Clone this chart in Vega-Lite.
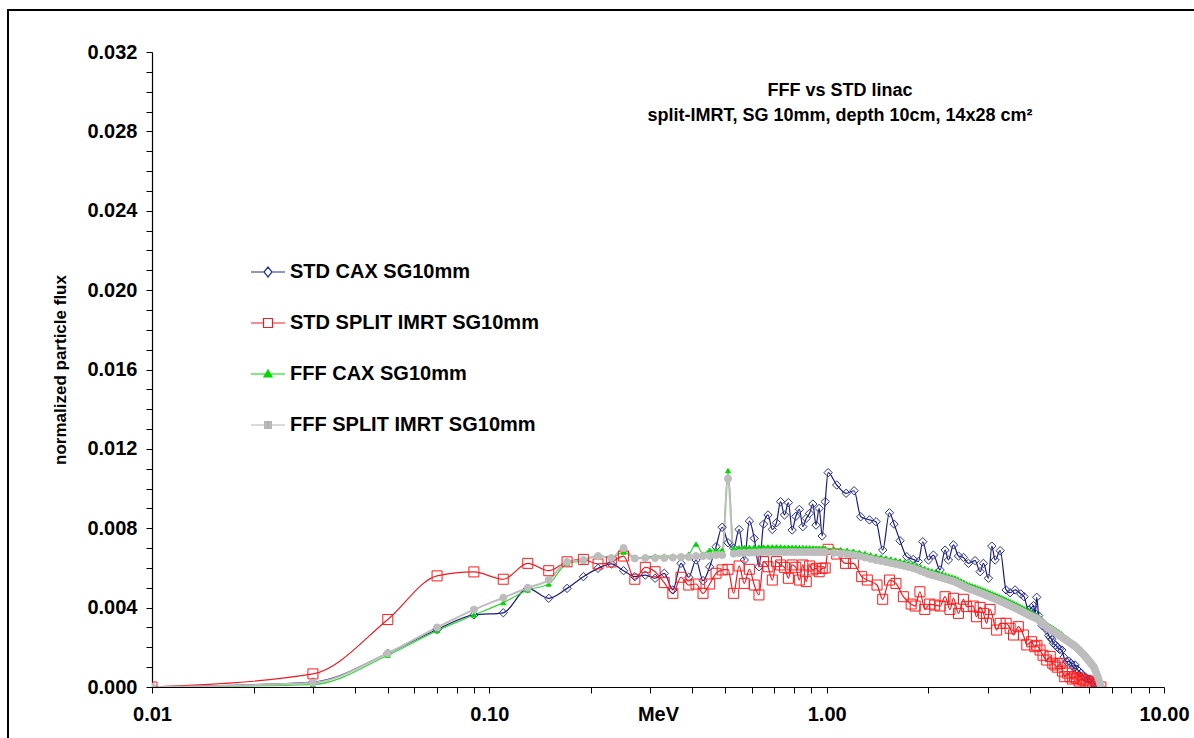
{
  "$schema": "https://vega.github.io/schema/vega-lite/v6.json",
  "width": 1012,
  "height": 635,
  "autosize": {"type": "none"},
  "padding": {"left": 152, "top": 52, "right": 30, "bottom": 51},
  "background": "white",
  "config": {"view": {"stroke": null}, "font": "Liberation Sans", "legend": {"strokeWidth": 2}},
  "title": {
    "text": ["FFF vs STD linac", "split-IMRT, SG 10mm, depth 10cm, 14x28 cm²"],
    "anchor": "middle", "frame": "group", "orient": "top", "offset": -116, "dx": 182,
    "baseline": "top", "font": "Liberation Sans", "fontSize": 18, "fontWeight": "bold",
    "color": "#000000", "lineHeight": 25
  },
  "data": {"values": [
    {"e":0.01,"a":0,"b":0,"c":0,"d":0},
    {"e":0.03,"a":0.00025,"b":0.00066,"c":0.00012,"d":0.00022},
    {"e":0.05,"a":0.0017,"b":0.0034,"c":0.0016,"d":0.0017},
    {"e":0.07,"a":0.0029,"b":0.0056,"c":0.00284,"d":0.003},
    {"e":0.09,"a":0.00363,"b":0.0058,"c":0.00363,"d":0.0039},
    {"e":0.11,"a":0.00374,"b":0.00543,"c":0.00425,"d":0.0045},
    {"e":0.13,"a":0.00497,"b":0.00623,"c":0.00489,"d":0.005},
    {"e":0.15,"a":0.00447,"b":0.00586,"c":0.00519,"d":0.0054},
    {"e":0.17,"a":0.00497,"b":0.00631,"c":0.00623,"d":0.0063},
    {"e":0.19,"a":0.00556,"b":0.00643,"c":0.00636,"d":0.0064},
    {"e":0.21,"a":0.00598,"b":0.0062,"c":0.00665,"d":0.0066},
    {"e":0.23,"a":0.0062,"b":0.0063,"c":0.0065,"d":0.0065},
    {"e":0.25,"a":0.00586,"b":0.0066,"c":0.0068,"d":0.007},
    {"e":0.27,"a":0.00556,"b":0.00543,"c":0.0065,"d":0.00648},
    {"e":0.29,"a":0.00564,"b":0.00603,"c":0.00655,"d":0.0065},
    {"e":0.31,"a":0.00548,"b":0.00581,"c":0.0066,"d":0.0065},
    {"e":0.33,"a":0.00573,"b":0.00526,"c":0.0066,"d":0.0065},
    {"e":0.35,"a":0.00489,"b":0.00472,"c":0.0066,"d":0.00652},
    {"e":0.37,"a":0.00623,"b":0.00553,"c":0.0066,"d":0.00655},
    {"e":0.39,"a":0.00553,"b":0.00514,"c":0.0067,"d":0.00655},
    {"e":0.41,"a":0.0064,"b":0.00519,"c":0.0072,"d":0.0066},
    {"e":0.43,"a":0.00536,"b":0.00472,"c":0.0067,"d":0.0066},
    {"e":0.45,"a":0.00606,"b":0.00519,"c":0.0069,"d":0.0066},
    {"e":0.47,"a":0.00707,"b":0.00573,"c":0.0069,"d":0.00665},
    {"e":0.49,"a":0.00805,"b":0.0059,"c":0.0069,"d":0.00665},
    {"e":0.51,"a":0.00727,"b":0.00593,"c":0.0109,"d":0.0105},
    {"e":0.53,"a":0.007,"b":0.00472,"c":0.007,"d":0.00672},
    {"e":0.55,"a":0.00794,"b":0.0061,"c":0.00702,"d":0.00675},
    {"e":0.57,"a":0.0064,"b":0.00522,"c":0.00703,"d":0.00676},
    {"e":0.59,"a":0.00836,"b":0.00593,"c":0.00704,"d":0.00677},
    {"e":0.61,"a":0.00749,"b":0.00514,"c":0.00705,"d":0.00678},
    {"e":0.63,"a":0.00606,"b":0.00464,"c":0.00705,"d":0.00679},
    {"e":0.65,"a":0.00821,"b":0.00632,"c":0.00706,"d":0.0068},
    {"e":0.67,"a":0.00867,"b":0.00606,"c":0.00706,"d":0.0068},
    {"e":0.69,"a":0.00794,"b":0.00539,"c":0.00706,"d":0.0068},
    {"e":0.71,"a":0.00828,"b":0.00632,"c":0.00706,"d":0.0068},
    {"e":0.73,"a":0.00934,"b":0.00615,"c":0.00706,"d":0.0068},
    {"e":0.75,"a":0.00867,"b":0.00603,"c":0.00705,"d":0.0068},
    {"e":0.77,"a":0.00929,"b":0.00548,"c":0.00705,"d":0.0068},
    {"e":0.79,"a":0.00791,"b":0.00615,"c":0.00704,"d":0.0068},
    {"e":0.81,"a":0.0086,"b":0.00603,"c":0.00704,"d":0.0068},
    {"e":0.83,"a":0.00895,"b":0.00539,"c":0.00703,"d":0.0068},
    {"e":0.85,"a":0.00808,"b":0.00615,"c":0.00703,"d":0.0068},
    {"e":0.87,"a":0.0085,"b":0.00531,"c":0.00702,"d":0.0068},
    {"e":0.89,"a":0.00875,"b":0.0061,"c":0.00702,"d":0.0068},
    {"e":0.91,"a":0.00922,"b":0.0059,"c":0.00701,"d":0.0068},
    {"e":0.93,"a":0.00816,"b":0.00598,"c":0.007,"d":0.0068},
    {"e":0.95,"a":0.009,"b":0.00581,"c":0.007,"d":0.0068},
    {"e":0.97,"a":0.00761,"b":0.00598,"c":0.007,"d":0.0068},
    {"e":0.99,"a":0.00934,"b":0.006,"c":0.007,"d":0.0068},
    {"e":1.01,"a":0.0108,"b":0.00694},
    {"e":1.071,"a":0.01018,"b":0.0067},
    {"e":1.142,"a":0.00976},
    {"e":1.137,"b":0.00623},
    {"e":1.206,"a":0.00989},
    {"e":1.2,"b":0.00623},
    {"e":1.262,"a":0.00858},
    {"e":1.27,"b":0.00556},
    {"e":1.339,"a":0.00842},
    {"e":1.32,"b":0.00539},
    {"e":1.401,"a":0.00833},
    {"e":1.41,"b":0.00514},
    {"e":1.466,"a":0.0069,"b":0.00442},
    {"e":1.535,"a":0.00878,"b":0.00539},
    {"e":1.584,"a":0.00821},
    {"e":1.605,"b":0.00522},
    {"e":1.65,"a":0.00737},
    {"e":1.688,"b":0.00455},
    {"e":1.727,"a":0.00657},
    {"e":1.78,"b":0.00418},
    {"e":1.807,"a":0.00643},
    {"e":1.83,"b":0.00408},
    {"e":1.87,"a":0.00632},
    {"e":1.89,"b":0.0048},
    {"e":1.927,"a":0.00732},
    {"e":1.954,"b":0.00391},
    {"e":2.003,"a":0.0064},
    {"e":2.02,"b":0.00418},
    {"e":2.072,"a":0.00665},
    {"e":2.09,"b":0.00413},
    {"e":2.169,"a":0.0059,"b":0.00408},
    {"e":2.244,"a":0.0069,"b":0.00455},
    {"e":2.296,"a":0.0064},
    {"e":2.32,"b":0.00391},
    {"e":2.376,"a":0.00716,"b":0.00447},
    {"e":2.459,"a":0.0066,"b":0.00371},
    {"e":2.543,"a":0.00653,"b":0.00442},
    {"e":2.6,"b":0.00405},
    {"e":2.632,"a":0.00623},
    {"e":2.72,"b":0.00408},
    {"e":2.754,"a":0.00637},
    {"e":2.78,"b":0.00354},
    {"e":2.85,"a":0.00581,"b":0.00401},
    {"e":2.916,"a":0.00623,"b":0.00371},
    {"e":2.98,"b":0.00321},
    {"e":3.017,"a":0.00548},
    {"e":3.05,"b":0.00391},
    {"e":3.087,"a":0.0071},
    {"e":3.158,"a":0.0064},
    {"e":3.19,"b":0.00287},
    {"e":3.268,"a":0.00687,"b":0.00321},
    {"e":3.404,"a":0.00489,"b":0.00321},
    {"e":3.498,"a":0.00475,"b":0.00296},
    {"e":3.58,"b":0.00262},
    {"e":3.619,"a":0.00489},
    {"e":3.7,"b":0.00304},
    {"e":3.762,"a":0.00469},
    {"e":3.83,"b":0.00262},
    {"e":3.848,"a":0.00455},
    {"e":3.92,"b":0.00212},
    {"e":3.963,"a":0.00388},
    {"e":4.05,"a":0.004,"b":0.00228},
    {"e":4.1,"a":0.0041},
    {"e":4.14,"b":0.00203},
    {"e":4.15,"a":0.0037},
    {"e":4.195,"a":0.00452},
    {"e":4.2,"b":0.0021},
    {"e":4.25,"a":0.0036},
    {"e":4.29,"a":0.00338,"b":0.00186},
    {"e":4.35,"a":0.0031},
    {"e":4.38,"b":0.0016},
    {"e":4.39,"a":0.0032},
    {"e":4.45,"a":0.003},
    {"e":4.49,"a":0.00287,"b":0.00136},
    {"e":4.55,"a":0.0026},
    {"e":4.6,"a":0.0025,"b":0.00153},
    {"e":4.65,"a":0.0024},
    {"e":4.68,"b":0.0012},
    {"e":4.7,"a":0.0022},
    {"e":4.75,"b":0.00111},
    {"e":4.78,"a":0.0021},
    {"e":4.83,"a":0.002,"b":0.001},
    {"e":4.9,"a":0.0019},
    {"e":4.92,"b":0.00119},
    {"e":4.98,"a":0.00186},
    {"e":5.0,"b":0.0008},
    {"e":5.05,"a":0.0015},
    {"e":5.08,"b":0.00052},
    {"e":5.15,"a":0.00128},
    {"e":5.17,"b":0.0007},
    {"e":5.22,"a":0.0013},
    {"e":5.26,"b":0.00052},
    {"e":5.3,"a":0.0012},
    {"e":5.35,"b":0.0004},
    {"e":5.38,"a":0.001},
    {"e":5.42,"b":0.0005},
    {"e":5.45,"a":0.00111},
    {"e":5.5,"b":0.00044},
    {"e":5.52,"a":0.0009},
    {"e":5.6,"a":0.0008,"b":0.0003},
    {"e":5.68,"a":0.0007,"b":0.0004},
    {"e":5.77,"a":0.00052,"b":0.00035},
    {"e":5.85,"a":0.0005},
    {"e":5.87,"b":0.0002},
    {"e":5.95,"a":0.0004,"b":0.0003},
    {"e":6.03,"a":0.0004},
    {"e":6.04,"b":0.00019},
    {"e":6.106,"a":0.00035},
    {"e":6.15,"b":0.0001},
    {"e":6.2,"a":0.0002},
    {"e":6.25,"b":0.0001},
    {"e":6.32,"a":0.00002,"b":0},
    {"e":6.5,"a":0,"b":0},
    {"e":1.05,"c":0.00696,"d":0.00676},
    {"e":1.1,"c":0.00692,"d":0.00672},
    {"e":1.15,"c":0.00689,"d":0.00669},
    {"e":1.2,"c":0.00685,"d":0.00665},
    {"e":1.25,"c":0.00679,"d":0.00659},
    {"e":1.3,"c":0.00673,"d":0.00653},
    {"e":1.35,"c":0.00666,"d":0.00646},
    {"e":1.4,"c":0.0066,"d":0.0064},
    {"e":1.45,"c":0.00655,"d":0.00635},
    {"e":1.5,"c":0.0065,"d":0.0063},
    {"e":1.55,"c":0.00645,"d":0.00625},
    {"e":1.6,"c":0.0064,"d":0.0062},
    {"e":1.65,"c":0.00635,"d":0.00615},
    {"e":1.7,"c":0.0063,"d":0.0061},
    {"e":1.75,"c":0.00625,"d":0.00605},
    {"e":1.8,"c":0.0062,"d":0.006},
    {"e":1.85,"c":0.00613,"d":0.00593},
    {"e":1.9,"c":0.00605,"d":0.00585},
    {"e":1.95,"c":0.00598,"d":0.00578},
    {"e":2.0,"c":0.0059,"d":0.0057},
    {"e":2.05,"c":0.00585,"d":0.00565},
    {"e":2.1,"c":0.0058,"d":0.0056},
    {"e":2.15,"c":0.00575,"d":0.00555},
    {"e":2.2,"c":0.0057,"d":0.0055},
    {"e":2.25,"c":0.00565,"d":0.00545},
    {"e":2.3,"c":0.0056,"d":0.0054},
    {"e":2.35,"c":0.00555,"d":0.00535},
    {"e":2.4,"c":0.0055,"d":0.0053},
    {"e":2.45,"c":0.00543,"d":0.00523},
    {"e":2.5,"c":0.00535,"d":0.00515},
    {"e":2.55,"c":0.00528,"d":0.00508},
    {"e":2.6,"c":0.0052,"d":0.005},
    {"e":2.65,"c":0.00515,"d":0.00495},
    {"e":2.7,"c":0.0051,"d":0.0049},
    {"e":2.75,"c":0.00505,"d":0.00485},
    {"e":2.8,"c":0.005,"d":0.0048},
    {"e":2.85,"c":0.00495,"d":0.00475},
    {"e":2.9,"c":0.0049,"d":0.0047},
    {"e":2.95,"c":0.00485,"d":0.00465},
    {"e":3.0,"c":0.0048,"d":0.0046},
    {"e":3.05,"c":0.00475,"d":0.00455},
    {"e":3.1,"c":0.0047,"d":0.0045},
    {"e":3.15,"c":0.00465,"d":0.00445},
    {"e":3.2,"c":0.0046,"d":0.0044},
    {"e":3.25,"c":0.00455,"d":0.00435},
    {"e":3.3,"c":0.0045,"d":0.0043},
    {"e":3.35,"c":0.00445,"d":0.00425},
    {"e":3.4,"c":0.0044,"d":0.0042},
    {"e":3.45,"c":0.00435,"d":0.00415},
    {"e":3.5,"c":0.0043,"d":0.0041},
    {"e":3.55,"c":0.00425,"d":0.00405},
    {"e":3.6,"c":0.0042,"d":0.004},
    {"e":3.65,"c":0.00415,"d":0.00395},
    {"e":3.7,"c":0.0041,"d":0.0039},
    {"e":3.75,"c":0.00405,"d":0.00385},
    {"e":3.8,"c":0.004,"d":0.0038},
    {"e":3.85,"c":0.00395,"d":0.00375},
    {"e":3.9,"c":0.0039,"d":0.0037},
    {"e":3.95,"c":0.00385,"d":0.00365},
    {"e":4.0,"c":0.0038,"d":0.0036},
    {"e":4.05,"c":0.00371,"d":0.00356},
    {"e":4.1,"c":0.00368,"d":0.00353},
    {"e":4.15,"c":0.00364,"d":0.00349},
    {"e":4.2,"c":0.0036,"d":0.00345},
    {"e":4.25,"c":0.00353,"d":0.00338},
    {"e":4.3,"c":0.00345,"d":0.0033},
    {"e":4.35,"c":0.00338,"d":0.00323},
    {"e":4.4,"c":0.0033,"d":0.00315},
    {"e":4.45,"c":0.00323,"d":0.00308},
    {"e":4.5,"c":0.00315,"d":0.003},
    {"e":4.55,"c":0.0031,"d":0.00295},
    {"e":4.6,"c":0.00305,"d":0.0029},
    {"e":4.65,"c":0.003,"d":0.00285},
    {"e":4.7,"c":0.00295,"d":0.0028},
    {"e":4.75,"c":0.0029,"d":0.00275},
    {"e":4.8,"c":0.00285,"d":0.0027},
    {"e":4.85,"c":0.0028,"d":0.00265},
    {"e":4.9,"c":0.00275,"d":0.0026},
    {"e":4.95,"c":0.0027,"d":0.00255},
    {"e":5.0,"c":0.00265,"d":0.0025},
    {"e":5.05,"c":0.00255,"d":0.00245},
    {"e":5.1,"c":0.0025,"d":0.0024},
    {"e":5.15,"c":0.00245,"d":0.00235},
    {"e":5.2,"c":0.0024,"d":0.0023},
    {"e":5.25,"c":0.00235,"d":0.00225},
    {"e":5.3,"c":0.0023,"d":0.0022},
    {"e":5.35,"c":0.00225,"d":0.00215},
    {"e":5.4,"c":0.0022,"d":0.0021},
    {"e":5.45,"c":0.00215,"d":0.00205},
    {"e":5.5,"c":0.0021,"d":0.002},
    {"e":5.55,"c":0.00203,"d":0.00193},
    {"e":5.6,"c":0.00197,"d":0.00187},
    {"e":5.65,"c":0.0019,"d":0.0018},
    {"e":5.7,"c":0.00183,"d":0.00173},
    {"e":5.75,"c":0.00177,"d":0.00167},
    {"e":5.8,"c":0.0017,"d":0.0016},
    {"e":5.85,"c":0.00163,"d":0.00153},
    {"e":5.9,"c":0.00155,"d":0.00145},
    {"e":5.95,"c":0.00148,"d":0.00138},
    {"e":6.0,"c":0.0014,"d":0.0013},
    {"e":6.05,"c":0.00128,"d":0.00123},
    {"e":6.1,"c":0.0012,"d":0.00115},
    {"e":6.15,"c":0.00113,"d":0.00108},
    {"e":6.2,"c":0.00105,"d":0.001},
    {"e":6.25,"c":0.0009,"d":0.00085},
    {"e":6.3,"c":0.00075,"d":0.0007},
    {"e":6.35,"c":0.0006,"d":0.00055},
    {"e":6.4,"c":0.00045,"d":0.0004},
    {"e":6.45,"c":0.00025,"d":0.0002},
    {"e":6.5,"c":0,"d":0}
  ]},
  "transform": [
    {"fold": ["a", "b", "c", "d"], "as": ["s", "f"]},
    {"filter": "isValid(datum.f)"}
  ],
  "encoding": {
    "x": {
      "field": "e", "type": "quantitative",
      "scale": {"type": "log", "domain": [0.01, 10]},
      "axis": {
        "title": "MeV", "format": ".2f",
        "values": [0.01,0.02,0.03,0.04,0.05,0.06,0.07,0.08,0.09,0.1,0.2,0.3,0.4,0.5,0.6,0.7,0.8,0.9,1,2,3,4,5,6,7,8,9,10],
        "labelExpr": "indexof([0.01,0.1,1,10], datum.value) >= 0 ? datum.label : ''",
        "labelOverlap": false, "labelFlush": false, "labelBound": false,
        "labelFont": "Liberation Sans", "labelFontSize": 20, "labelFontWeight": "bold", "labelColor": "#000000",
        "labelPadding": 11, "tickSize": 6, "tickColor": "#000000", "tickWidth": 1,
        "domainColor": "#000000", "domainWidth": 1.2, "grid": false,
        "titleFont": "Liberation Sans", "titleFontSize": 20, "titleFontWeight": "bold", "titleColor": "#000000",
        "titleY": 17.5, "titleBaseline": "top"
      }
    },
    "y": {
      "field": "f", "type": "quantitative",
      "scale": {"domain": [0, 0.032], "nice": false, "zero": true},
      "axis": {
        "title": "normalized particle flux", "format": ".3f",
        "values": [0,0.001,0.002,0.003,0.004,0.005,0.006,0.007,0.008,0.009,0.01,0.011,0.012,0.013,0.014,0.015,0.016,0.017,0.018,0.019,0.02,0.021,0.022,0.023,0.024,0.025,0.026,0.027,0.028,0.029,0.03,0.031,0.032],
        "labelExpr": "indexof([0,0.004,0.008,0.012,0.016,0.02,0.024,0.028,0.032], datum.value) >= 0 ? datum.label : ''",
        "labelOverlap": false, "labelFlush": false, "labelBound": false,
        "labelFont": "Liberation Sans", "labelFontSize": 20, "labelFontWeight": "bold", "labelColor": "#000000",
        "labelPadding": 9, "tickSize": 6, "tickColor": "#000000", "tickWidth": 1,
        "domainColor": "#000000", "domainWidth": 1.2, "grid": false,
        "titleFont": "Liberation Sans", "titleFontSize": 17, "titleFontWeight": "bold", "titleColor": "#000000",
        "titleX": -92, "titleBaseline": "middle"
      }
    }
  },
  "layer": [
    {
      "mark": {"type": "line", "interpolate": "monotone", "clip": true},
      "encoding": {
        "detail": {"field": "s", "type": "nominal"},
        "color": {
          "condition": [
            {"test": "datum.s === 'a'", "value": "#1c1c7e"},
            {"test": "datum.s === 'b'", "value": "#ee1c24"},
            {"test": "datum.s === 'c'", "value": "#33d633"}
          ],
          "value": "#bdbdbd"
        },
        "strokeWidth": {
          "condition": {"test": "datum.s === 'd'", "value": 2},
          "value": 1.2
        }
      }
    },
    {
      "mark": {"type": "point", "clip": true, "strokeWidth": 1, "opacity": 1},
      "encoding": {
        "stroke": {
          "condition": [
            {"test": "datum.s === 'a'", "value": "#26308f"},
            {"test": "datum.s === 'b'", "value": "#ff1a1a"},
            {"test": "datum.s === 'c'", "value": "#00d800"}
          ],
          "value": "#bdbdbd"
        },
        "shape": {
          "condition": [
            {"test": "datum.s === 'a'", "value": "diamond"},
            {"test": "datum.s === 'b'", "value": "square"},
            {"test": "datum.s === 'c'", "value": "triangle-up"}
          ],
          "value": "circle"
        },
        "fill": {
          "condition": [
            {"test": "datum.s === 'c'", "value": "#00d800"},
            {"test": "datum.s === 'd'", "value": "#bdbdbd"}
          ],
          "value": "transparent"
        },
        "size": {
          "condition": [
            {"test": "datum.s === 'a'", "value": 70},
            {"test": "datum.s === 'b'", "value": 100},
            {"test": "datum.s === 'c'", "value": 25}
          ],
          "value": 50
        },
        "order": {"field": "s", "type": "ordinal"}
      }
    },
    {
      "mark": {"type": "point", "filled": false, "opacity": 0, "clip": true},
      "encoding": {
        "color": {
          "field": "s", "type": "nominal",
          "scale": {"domain": ["a", "b", "c", "d"], "range": ["#26308f", "#ee1c24", "#00d800", "#b4b4b4"]},
          "legend": {
            "orient": "none", "legendX": 98, "legendY": 202, "title": null, "padding": 0,
            "symbolSize": 1156, "symbolStrokeWidth": 1.2, "symbolOpacity": 1,
            "labelFont": "Liberation Sans", "labelFontSize": 20, "labelFontWeight": "bold", "labelColor": "#000000",
            "labelOffset": 4, "rowPadding": 23, "labelLimit": 500,
            "labelExpr": "{'a': 'STD CAX SG10mm', 'b': 'STD SPLIT IMRT SG10mm', 'c': 'FFF CAX SG10mm', 'd': 'FFF SPLIT IMRT SG10mm'}[datum.label]"
          }
        },
        "shape": {
          "field": "s", "type": "nominal",
          "scale": {"domain": ["a", "b", "c", "d"], "range": [
            "M-1,0H-0.235M0.235,0H1M-0.235,0L0,-0.29L0.235,0L0,0.29Z",
            "M-1,0H-0.265M0.265,0H1M-0.265,-0.265H0.265V0.265H-0.265Z",
            "M-1,0H1M-0.235,0.17L0,-0.24L0.235,0.17ZM-0.15,0.11L0,-0.15L0.15,0.11ZM-0.07,0.06L0,-0.06L0.07,0.06Z",
            "M-1,0H1M-0.2,-0.2H0.2V0.2H-0.2ZM-0.12,-0.12H0.12V0.12H-0.12ZM-0.05,-0.05H0.05V0.05H-0.05Z"
          ]},
          "legend": {
            "orient": "none", "legendX": 98, "legendY": 202, "title": null, "padding": 0,
            "symbolSize": 1156, "symbolStrokeWidth": 1.2, "symbolOpacity": 1,
            "labelFont": "Liberation Sans", "labelFontSize": 20, "labelFontWeight": "bold", "labelColor": "#000000",
            "labelOffset": 4, "rowPadding": 23, "labelLimit": 500,
            "labelExpr": "{'a': 'STD CAX SG10mm', 'b': 'STD SPLIT IMRT SG10mm', 'c': 'FFF CAX SG10mm', 'd': 'FFF SPLIT IMRT SG10mm'}[datum.label]"
          }
        },
        "opacity": {
          "field": "s", "type": "nominal",
          "scale": {"domain": ["d", "c", "b", "a"], "range": [0, 0, 0, 0]},
          "legend": {
            "orient": "none", "legendX": -144, "legendY": -42, "title": null, "padding": 700,
            "strokeColor": "#000000",
            "symbolSize": 0, "symbolOpacity": 0, "symbolStrokeWidth": 0,
            "labelFontSize": 1, "labelOpacity": 0, "rowPadding": 0,
            "labelExpr": "''"
          }
        }
      }
    }
  ]
}
